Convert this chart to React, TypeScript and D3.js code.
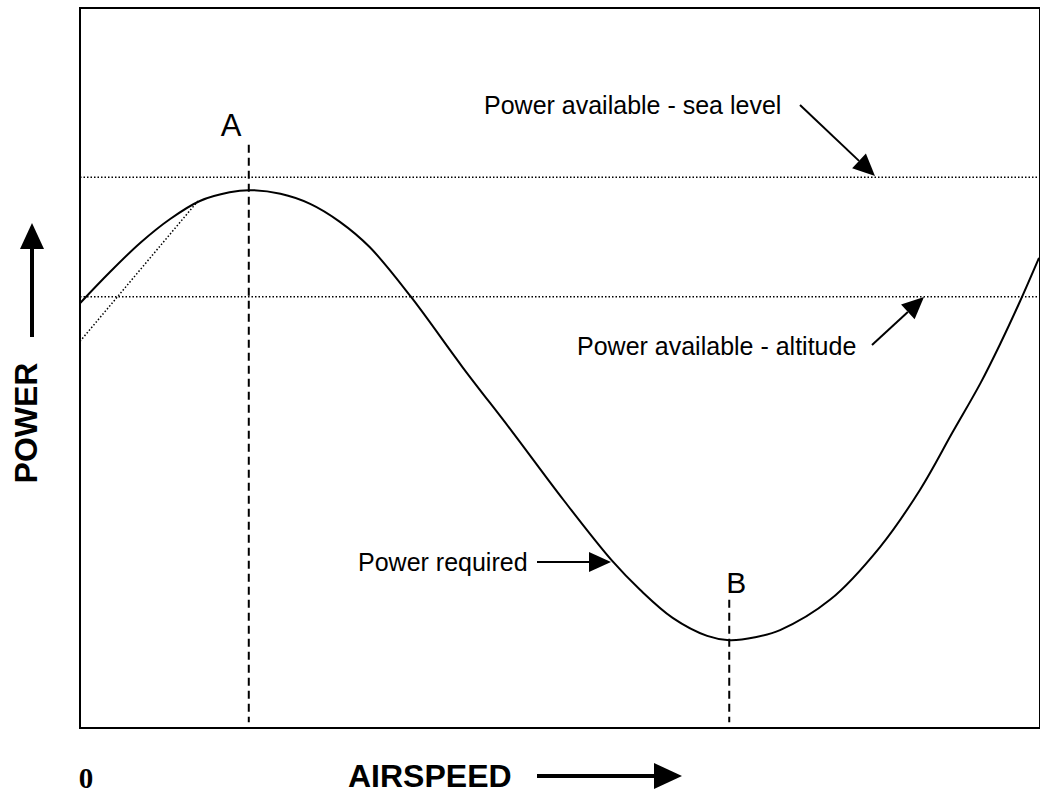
import React from 'react';
import * as d3 from 'd3';

const width = 1040;
const height = 794;
const margin = { top: 8, right: 1, bottom: 66, left: 80 };

// power required curve (arbitrary units 0..100)
const airspeed = [
  0, 3.1, 6.3, 9.4, 12.5, 15.6, 17.6, 20.9, 24.0, 27.1, 30.2, 34.5, 39.9, 45.1, 50.4,
  55.5, 58.4, 61.8, 65.4, 67.7, 70.4, 73.0, 78.2, 83.4, 87.6, 91.0, 93.9, 95.9, 98.0, 100
];
const powerRequired = [
  59.0, 63.3, 67.4, 70.7, 73.2, 74.4, 74.7, 74.2, 72.8, 70.3, 66.8, 59.9, 50.1, 41.1, 31.7,
  23.2, 19.2, 15.3, 12.8, 12.2, 12.6, 13.6, 17.8, 25.1, 33.1, 41.1, 47.9, 53.2, 59.2, 65.3
];

const availableLevels = [76.5, 59.9]; // sea level, altitude
const tangentX = [0, 12.3];
const tangentY = [53.7, 73.2];

const markX = [17.6, 67.7]; // A, B
const markTop = [81.0, 17.8];
const markLabels = ['A', 'B'];

const x = d3.scaleLinear().domain([0, 100]).range([margin.left, width - margin.right]);
const y = d3.scaleLinear().domain([0, 100]).range([height - margin.bottom, margin.top]);

const curve = d3
  .line<number>()
  .x((d, i) => x(airspeed[i]))
  .y(d => y(d))
  .curve(d3.curveCatmullRom.alpha(0.5));

const font = 'Liberation Sans, Arial, sans-serif';

// filled arrow head, tip at (x2,y2)
function arrow(x1: number, y1: number, x2: number, y2: number, len = 22, half = 10, w = 2) {
  const a = Math.atan2(y2 - y1, x2 - x1);
  const bx = x2 - len * Math.cos(a);
  const by = y2 - len * Math.sin(a);
  const px = -Math.sin(a) * half;
  const py = Math.cos(a) * half;
  return (
    <g>
      <line x1={x1} y1={y1} x2={bx} y2={by} stroke="#000" strokeWidth={w} />
      <path d={`M${x2},${y2}L${bx + px},${by + py}L${bx - px},${by - py}Z`} fill="#000" />
    </g>
  );
}

export default function App() {
  return (
    <svg width={width} height={height} style={{ display: 'block', position: 'absolute', left: 0, top: 0 }}>
      <rect x={0} y={0} width={width} height={height} fill="#fff" />
      <rect
        x={margin.left}
        y={margin.top}
        width={width - margin.left}
        height={height - margin.top - margin.bottom}
        fill="none"
        stroke="#000"
        strokeWidth={2}
      />

      {availableLevels.map((v, i) => (
        <line key={i} x1={x(0)} x2={x(100)} y1={y(v)} y2={y(v)} stroke="#000" strokeWidth={1.5} strokeDasharray="1.5,2" />
      ))}
      <line
        x1={x(tangentX[0])}
        y1={y(tangentY[0])}
        x2={x(tangentX[1])}
        y2={y(tangentY[1])}
        stroke="#000"
        strokeWidth={1.5}
        strokeDasharray="1.5,2"
      />

      {markX.map((v, i) => (
        <line key={i} x1={x(v)} x2={x(v)} y1={y(markTop[i])} y2={y(0.8)} stroke="#000" strokeWidth={2} strokeDasharray="8,5" />
      ))}

      <path d={curve(powerRequired) || ''} fill="none" stroke="#000" strokeWidth={2} />

      <text x={x(markX[0]) - 28} y={136} fontFamily={font} fontSize={31}>{markLabels[0]}</text>
      <text x={x(markX[1]) - 3} y={593} fontFamily={font} fontSize={30}>{markLabels[1]}</text>

      <text x={484} y={114} fontFamily={font} fontSize={25}>Power available - sea level</text>
      {arrow(800, 105, 875, 176)}
      <text x={577} y={355} fontFamily={font} fontSize={25}>Power available - altitude</text>
      {arrow(872, 345, 924, 297)}
      <text x={358} y={571} fontFamily={font} fontSize={25}>Power required</text>
      {arrow(537, 562, 611, 562)}

      <text x={86} y={788} textAnchor="middle" fontFamily="Liberation Serif, Times New Roman, serif" fontWeight="bold" fontSize={29}>0</text>
      <text x={348} y={787} fontFamily={font} fontWeight="bold" fontSize={32}>AIRSPEED</text>
      {arrow(537, 776, 682, 776, 28, 13, 4)}

      <text
        transform="translate(37,423) rotate(-90)"
        textAnchor="middle"
        fontFamily={font}
        fontWeight="bold"
        fontSize={32}
      >
        POWER
      </text>
      {arrow(32, 337, 32, 223, 26, 12, 4)}
    </svg>
  );
}
